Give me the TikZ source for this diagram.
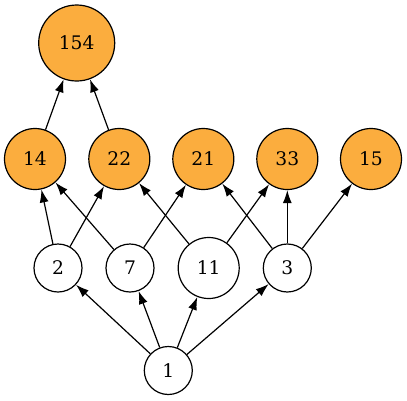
\documentclass[tikz,border=0pt]{standalone}
\usepackage{fontspec}
\setmainfont{DejaVu Serif}
\usepackage{tikz}
\usetikzlibrary{arrows.meta}
\definecolor{Orange}{RGB}{251,173,62}

\begin{document}
\begin{tikzpicture}[x=1pt, y=-1pt, line width=1.2pt,
    num/.style={circle, draw=black, fill=white, inner sep=0pt, font=\fontsize{18.7}{20}\selectfont},
    hit/.style={num, fill=Orange},
    edge/.style={-{Latex[length=13pt,width=9pt]}}]
        \useasboundingbox (0,0) rectangle (407,400);
        % orange nodes
        \node[hit, minimum size=76pt] (N154) at (76.7,43) {154};
        \node[hit, minimum size=61pt] (N14) at (35,159) {14};
        \node[hit, minimum size=61pt] (N22) at (119.3,159) {22};
        \node[hit, minimum size=61pt] (N21) at (203.3,159) {21};
        \node[hit, minimum size=61pt] (N33) at (287.3,159) {33};
        \node[hit, minimum size=61pt] (N15) at (371,159) {15};
        % white nodes
        \node[num, minimum size=48pt] (N2) at (58,268) {2};
        \node[num, minimum size=48pt] (N7) at (130,268) {7};
        \node[num, minimum size=61pt] (N11) at (208.7,268) {11};
        \node[num, minimum size=48pt] (N3) at (287.3,268) {3};
        \node[num, minimum size=48pt] (N1) at (168.3,370.5) {1};

        % edges
        \draw[edge] (N1) -- (N2);
        \draw[edge] (N1) -- (N7);
        \draw[edge] (N1) -- (N11);
        \draw[edge] (N1) -- (N3);
        \draw[edge] (N2) -- (N14);
        \draw[edge] (N2) -- (N22);
        \draw[edge] (N7) -- (N14);
        \draw[edge] (N7) -- (N21);
        \draw[edge] (N11) -- (N22);
        \draw[edge] (N11) -- (N33);
        \draw[edge] (N3) -- (N21);
        \draw[edge] (N3) -- (N33);
        \draw[edge] (N3) -- (N15);
        \draw[edge] (N14) -- (N154);
        \draw[edge] (N22) -- (N154);
\end{tikzpicture}
\end{document}
